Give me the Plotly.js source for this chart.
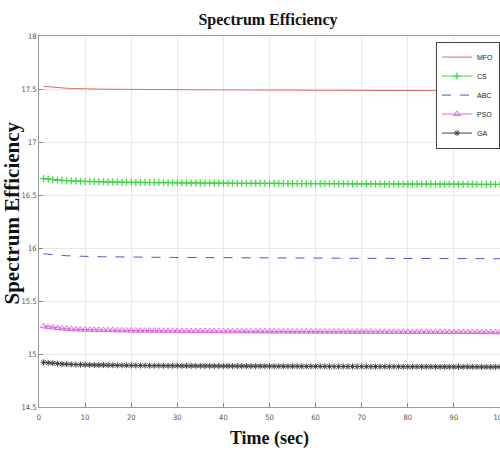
<!DOCTYPE html>
<html><head><meta charset="utf-8">
<script src="https://cdn.plot.ly/plotly-3.0.1.min.js"></script>
<style>body{margin:0;padding:0;background:#fff}#chart{width:500px;height:455px}</style>
</head><body><div id="chart"></div>
<script>
const timeSec = [1,2,3,4,5,6,7,8,9,10,11,12,13,14,15,16,17,18,19,20,21,22,23,24,25,26,27,28,29,30,31,32,33,34,35,36,37,38,39,40,41,42,43,44,45,46,47,48,49,50,51,52,53,54,55,56,57,58,59,60,61,62,63,64,65,66,67,68,69,70,71,72,73,74,75,76,77,78,79,80,81,82,83,84,85,86,87,88,89,90,91,92,93,94,95,96,97,98,99,100];
const mfo = [17.525,17.520,17.516,17.512,17.509,17.507,17.505,17.503,17.502,17.501,
17.500,17.499,17.499,17.498,17.498,17.497,17.497,17.497,17.496,17.496,
17.496,17.495,17.495,17.495,17.495,17.494,17.494,17.494,17.494,17.493,
17.493,17.493,17.493,17.493,17.492,17.492,17.492,17.492,17.492,17.491,
17.491,17.491,17.491,17.491,17.490,17.490,17.490,17.490,17.490,17.490,
17.489,17.489,17.489,17.489,17.489,17.489,17.488,17.488,17.488,17.488,
17.488,17.488,17.487,17.487,17.487,17.487,17.487,17.487,17.486,17.486,
17.486,17.486,17.486,17.486,17.486,17.485,17.485,17.485,17.485,17.485,
17.485,17.485,17.484,17.484,17.484,17.484,17.484,17.484,17.484,17.484,
17.483,17.483,17.483,17.483,17.483,17.483,17.483,17.483,17.482,17.482];
const cs = [16.655,16.650,16.645,16.641,16.638,16.635,16.633,16.631,16.629,16.628,
16.627,16.626,16.625,16.624,16.623,16.622,16.622,16.621,16.620,16.620,
16.619,16.619,16.618,16.618,16.617,16.617,16.616,16.616,16.616,16.615,
16.615,16.614,16.614,16.614,16.613,16.613,16.613,16.612,16.612,16.612,
16.611,16.611,16.611,16.611,16.610,16.610,16.610,16.610,16.609,16.609,
16.609,16.609,16.608,16.608,16.608,16.608,16.608,16.607,16.607,16.607,
16.607,16.607,16.606,16.606,16.606,16.606,16.606,16.605,16.605,16.605,
16.605,16.605,16.605,16.604,16.604,16.604,16.604,16.604,16.604,16.603,
16.603,16.603,16.603,16.603,16.603,16.603,16.602,16.602,16.602,16.602,
16.602,16.602,16.602,16.601,16.601,16.601,16.601,16.601,16.601,16.600];
const abc = [15.945,15.940,15.936,15.932,15.929,15.927,15.925,15.923,15.922,15.921,
15.920,15.919,15.918,15.917,15.917,15.916,15.916,15.915,15.915,15.914,
15.914,15.913,15.913,15.913,15.912,15.912,15.912,15.911,15.911,15.911,
15.910,15.910,15.910,15.910,15.909,15.909,15.909,15.909,15.908,15.908,
15.908,15.908,15.908,15.907,15.907,15.907,15.907,15.907,15.906,15.906,
15.906,15.906,15.906,15.905,15.905,15.905,15.905,15.905,15.905,15.904,
15.904,15.904,15.904,15.904,15.904,15.903,15.903,15.903,15.903,15.903,
15.903,15.903,15.902,15.902,15.902,15.902,15.902,15.902,15.902,15.901,
15.901,15.901,15.901,15.901,15.901,15.901,15.901,15.900,15.900,15.900,
15.900,15.900,15.900,15.900,15.900,15.899,15.899,15.899,15.899,15.899];
const pso = [15.262,15.256,15.250,15.245,15.241,15.238,15.235,15.233,15.231,15.230,
15.229,15.228,15.227,15.226,15.225,15.225,15.224,15.223,15.223,15.222,
15.222,15.221,15.221,15.220,15.220,15.220,15.219,15.219,15.219,15.218,
15.218,15.218,15.217,15.217,15.217,15.217,15.216,15.216,15.216,15.216,
15.215,15.215,15.215,15.215,15.214,15.214,15.214,15.214,15.214,15.213,
15.213,15.213,15.213,15.213,15.212,15.212,15.212,15.212,15.212,15.212,
15.211,15.211,15.211,15.211,15.211,15.211,15.210,15.210,15.210,15.210,
15.210,15.210,15.210,15.209,15.209,15.209,15.209,15.209,15.209,15.209,
15.208,15.208,15.208,15.208,15.208,15.208,15.208,15.207,15.207,15.207,
15.207,15.207,15.207,15.207,15.207,15.206,15.206,15.206,15.206,15.206];
const ga = [14.922,14.917,14.913,14.909,14.906,14.904,14.902,14.900,14.899,14.898,
14.897,14.896,14.895,14.895,14.894,14.894,14.893,14.893,14.892,14.892,
14.891,14.891,14.891,14.890,14.890,14.890,14.889,14.889,14.889,14.889,
14.888,14.888,14.888,14.888,14.887,14.887,14.887,14.887,14.887,14.886,
14.886,14.886,14.886,14.886,14.885,14.885,14.885,14.885,14.885,14.885,
14.884,14.884,14.884,14.884,14.884,14.884,14.883,14.883,14.883,14.883,
14.883,14.883,14.883,14.882,14.882,14.882,14.882,14.882,14.882,14.882,
14.881,14.881,14.881,14.881,14.881,14.881,14.881,14.881,14.880,14.880,
14.880,14.880,14.880,14.880,14.880,14.880,14.879,14.879,14.879,14.879,
14.879,14.879,14.879,14.879,14.879,14.878,14.878,14.878,14.878,14.878];
const seriesNames = ["MFO","CS","ABC","PSO","GA"];
const xTicks = [0,10,20,30,40,50,60,70,80,90,100];
const yTicks = [14.5,15,15.5,16,16.5,17,17.5,18];

const traces = [
  {x: timeSec, y: mfo, name: seriesNames[0], mode: "lines",
   line: {color: "#e06a6a", width: 1}},
  {x: timeSec, y: cs, name: seriesNames[1], mode: "lines+markers",
   line: {color: "#3cd83c", width: 1},
   marker: {symbol: "cross-thin-open", size: 5, color: "#3cd83c", line: {color: "#3cd83c", width: 1.2}}},
  {x: timeSec, y: abc, name: seriesNames[2], mode: "lines",
   line: {color: "#5a52c8", width: 1, dash: "dash"}},
  {x: timeSec, y: pso, name: seriesNames[3], mode: "lines+markers",
   line: {color: "#dd66dd", width: 1},
   marker: {symbol: "triangle-up-open", size: 6, color: "#dd66dd", line: {color: "#dd66dd", width: 1}}},
  {x: timeSec, y: ga, name: seriesNames[4], mode: "lines+markers",
   line: {color: "#444444", width: 1},
   marker: {symbol: "asterisk-open", size: 5, color: "#444444", line: {color: "#444444", width: 1}}}
];

const tickFont = {family: "DejaVu Sans Condensed, Liberation Sans, Arial", size: 7.5, color: "#555"};
const serif = "Liberation Serif, Times New Roman, serif";
const layout = {
  width: 500, height: 455,
  margin: {l: 39, r: 0, t: 36, b: 48},
  paper_bgcolor: "#fff", plot_bgcolor: "#fff",
  title: {text: "<b>Spectrum Efficiency</b>", x: 0.536, xanchor: "center", y: 0.957, yanchor: "middle",
    font: {family: serif, size: 16, color: "#111"}},
  xaxis: {range: [0, 100], tickvals: xTicks, ticktext: xTicks.map(String), ticklabeloverflow: "allow",
    ticks: "inside", ticklen: 4, tickcolor: "#888", showline: true, linecolor: "#999", mirror: true,
    ticklabelstandoff: 3,
    showgrid: true, gridcolor: "#e8e8e8", zeroline: false, tickfont: tickFont,
    title: {text: "<b>Time (sec)</b>", standoff: 10,
      font: {family: serif, size: 18, color: "#111"}}},
  yaxis: {range: [14.5, 18], tickvals: yTicks, ticktext: yTicks.map(String),
    ticks: "inside", ticklen: 4, tickcolor: "#888", showline: true, linecolor: "#999", mirror: true,
    showgrid: true, gridcolor: "#e8e8e8", zeroline: false, tickfont: tickFont},
  annotations: [{text: "<b>Spectrum Efficiency</b>", xref: "paper", yref: "paper", x: 0, y: 0.5,
    xanchor: "center", yanchor: "middle", xshift: -28, yshift: 8, textangle: -90, showarrow: false,
    font: {family: serif, size: 21, color: "#111"}}],
  legend: {x: 1, xanchor: "right", y: 0.985, yanchor: "top", bgcolor: "#fff",
    bordercolor: "#444", borderwidth: 1, itemwidth: 30, tracegroupgap: 0,
    font: {family: "Liberation Sans Narrow, Liberation Sans, Arial", size: 7, color: "#222"}},
  showlegend: true
};
Plotly.newPlot("chart", traces, layout, {displayModeBar: false, staticPlot: true});
</script>
</body></html>
